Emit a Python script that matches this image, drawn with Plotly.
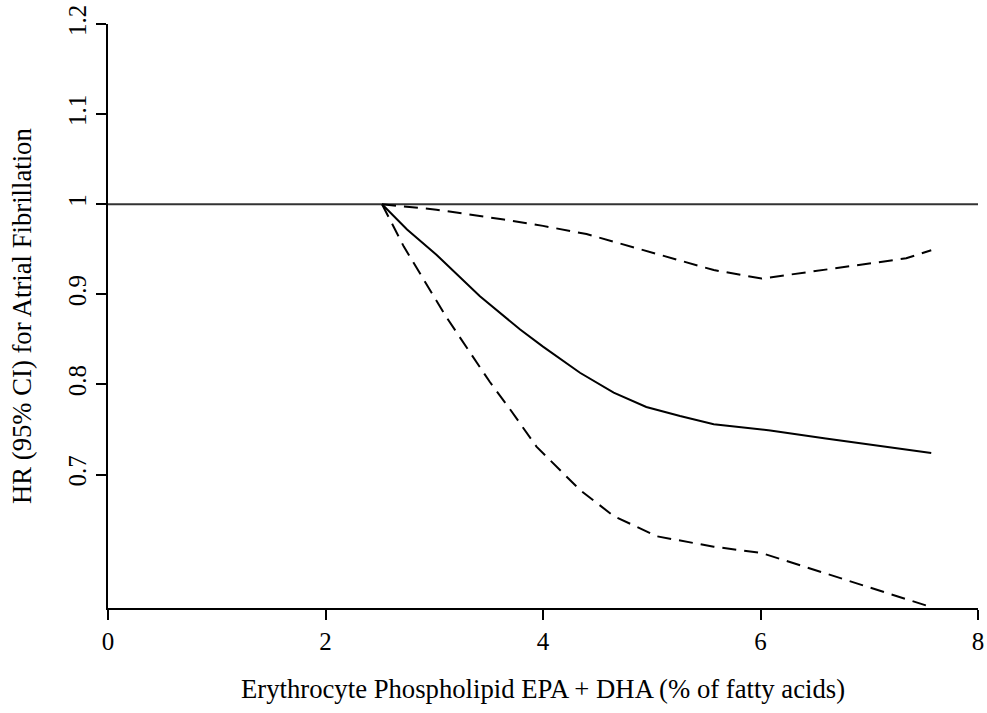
import plotly.graph_objects as go

# Data
hr_x = [2.52, 2.75, 3.02, 3.42, 3.79, 4.0, 4.34, 4.65, 4.95, 5.26, 5.57, 6.09, 6.6, 7.1, 7.57]
hr_y = [1.0, 0.972, 0.944, 0.898, 0.861, 0.842, 0.813, 0.791, 0.775, 0.765, 0.756, 0.749, 0.740, 0.732, 0.724]

upper_x = [2.52, 3.02, 3.64, 4.0, 4.40, 4.98, 5.57, 6.01, 6.5, 7.0, 7.34, 7.57]
upper_y = [1.0, 0.994, 0.983, 0.976, 0.967, 0.947, 0.927, 0.9175, 0.926, 0.934, 0.940, 0.949]

lower_x = [2.52, 2.72, 3.11, 3.51, 3.70, 3.94, 4.34, 4.65, 5.05, 5.57, 6.01, 6.4, 6.82, 7.2, 7.57]
lower_y = [1.0, 0.953, 0.875, 0.803, 0.772, 0.731, 0.683, 0.654, 0.6315, 0.620, 0.613, 0.598, 0.582, 0.567, 0.553]

ref_x = [0, 8]
ref_y = [1, 1]

x_ticks = [0, 2, 4, 6, 8]
y_ticks = [0.7, 0.8, 0.9, 1.0, 1.1, 1.2]
y_ticktext = ["0.7", "0.8", "0.9", "1", "1.1", "1.2"]

x_title = "Erythrocyte Phospholipid EPA + DHA (% of fatty acids)"
y_title = "HR (95% CI) for Atrial Fibrillation"

FONT = "Liberation Serif, Times New Roman, serif"
FS_TICK = 25
FS_TITLE = 26.7

fig = go.Figure()
fig.add_trace(go.Scatter(x=ref_x, y=ref_y, mode="lines",
                         line=dict(color="#333333", width=2), showlegend=False))
fig.add_trace(go.Scatter(x=upper_x, y=upper_y, mode="lines",
                         line=dict(color="black", width=2, dash="14px,8px"), showlegend=False))
fig.add_trace(go.Scatter(x=lower_x, y=lower_y, mode="lines",
                         line=dict(color="black", width=2, dash="14px,8px"), showlegend=False))
fig.add_trace(go.Scatter(x=hr_x, y=hr_y, mode="lines",
                         line=dict(color="black", width=2), showlegend=False))

axis_common = dict(showline=True, linecolor="black", linewidth=1.5, ticks="outside",
                   ticklen=10, tickwidth=1.5, tickcolor="black", showgrid=False,
                   zeroline=False, automargin=False,
                   tickfont=dict(family=FONT, size=FS_TICK, color="black"))

fig.update_xaxes(range=[0, 8], tickvals=x_ticks, ticklabelstandoff=0,
                 ticklabeloverflow="allow", **axis_common)
fig.update_yaxes(range=[0.552, 1.2], tickvals=y_ticks, ticktext=y_ticktext,
                 tickangle=-90, ticklabelstandoff=0, **axis_common)

fig.add_annotation(text=x_title, xref="paper", yref="paper", x=0.5, y=0,
                   yanchor="middle", xanchor="center", yshift=-81, showarrow=False,
                   font=dict(family=FONT, size=FS_TITLE, color="black"))
fig.add_annotation(text=y_title, xref="paper", yref="paper", x=0, y=0.5,
                   xanchor="center", yanchor="middle", xshift=-86, textangle=-90,
                   showarrow=False, font=dict(family=FONT, size=FS_TITLE, color="black"))

fig.update_layout(width=987, height=713, margin=dict(l=108, r=9, t=24, b=105),
                  plot_bgcolor="white", paper_bgcolor="white", showlegend=False)

fig.write_html("out.html")
